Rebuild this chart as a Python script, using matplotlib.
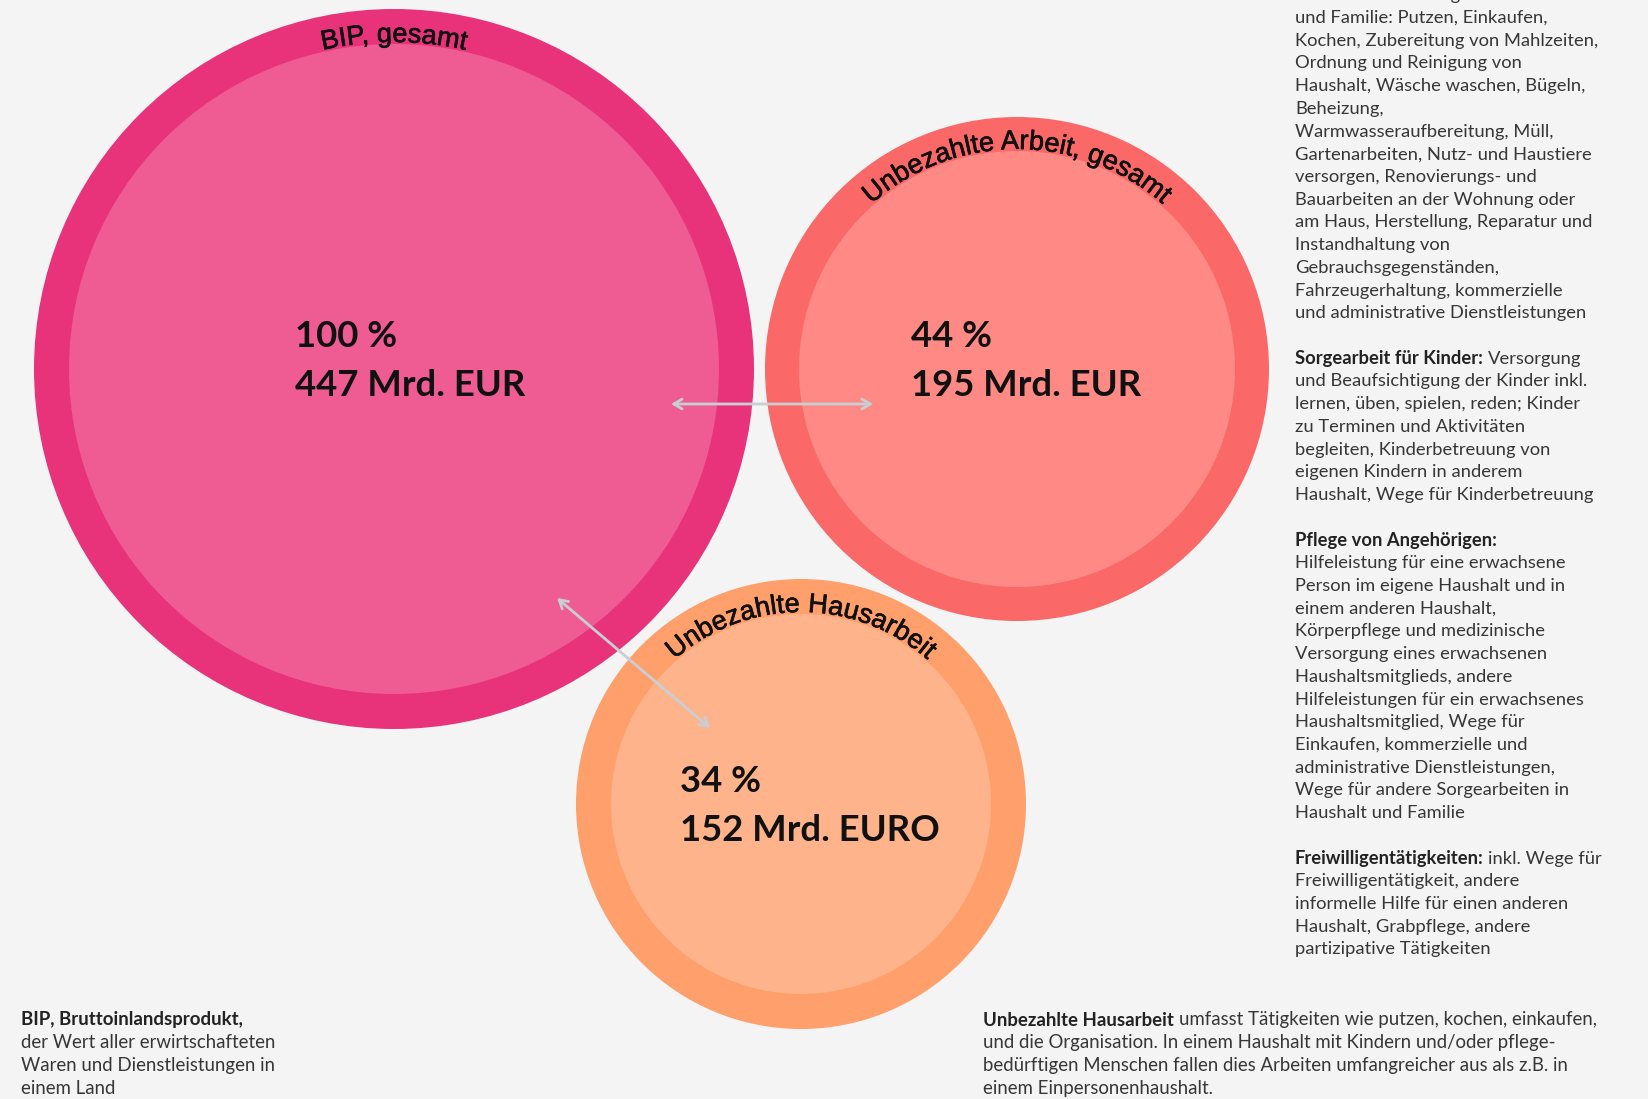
import numpy as np
import matplotlib
matplotlib.use("Agg")
from matplotlib import pyplot as plt
from matplotlib import patheffects
from matplotlib.patches import Circle, FancyArrowPatch, ArrowStyle
from matplotlib.font_manager import FontProperties

# data
labels = ["BIP, gesamt", "Unbezahlte Arbeit, gesamt", "Unbezahlte Hausarbeit"]
shares = [100, 44, 34]
amounts = [447, 195, 152]
units = ["Mrd. EUR", "Mrd. EUR", "Mrd. EURO"]

# layout (pixels)
centers = [(394, 369), (1017, 369), (801, 804)]
radii = [360, 252, 225]
inner_radii = [325, 218, 190]
outer_colors = ["#E8337A", "#FA6868", "#FF9F6C"]
inner_colors = ["#EF5B93", "#FF8A85", "#FFB38B"]
value_pos = [(295, 347), (911, 347), (680, 792)]

side_lines = [
    ("", "Hausarbeit und Sorgearbeit in Haushalt"),
    ("", "und Familie: Putzen, Einkaufen,"),
    ("", "Kochen, Zubereitung von Mahlzeiten,"),
    ("", "Ordnung und Reinigung von"),
    ("", "Haushalt, Wäsche waschen, Bügeln,"),
    ("", "Beheizung,"),
    ("", "Warmwasseraufbereitung, Müll,"),
    ("", "Gartenarbeiten, Nutz- und Haustiere"),
    ("", "versorgen, Renovierungs- und"),
    ("", "Bauarbeiten an der Wohnung oder"),
    ("", "am Haus, Herstellung, Reparatur und"),
    ("", "Instandhaltung von"),
    ("", "Gebrauchsgegenständen,"),
    ("", "Fahrzeugerhaltung, kommerzielle"),
    ("", "und administrative Dienstleistungen"),
    ("", ""),
    ("Sorgearbeit für Kinder:", " Versorgung"),
    ("", "und Beaufsichtigung der Kinder inkl."),
    ("", "lernen, üben, spielen, reden; Kinder"),
    ("", "zu Terminen und Aktivitäten"),
    ("", "begleiten, Kinderbetreuung von"),
    ("", "eigenen Kindern in anderem"),
    ("", "Haushalt, Wege für Kinderbetreuung"),
    ("", ""),
    ("Pflege von Angehörigen:", ""),
    ("", "Hilfeleistung für eine erwachsene"),
    ("", "Person im eigene Haushalt und in"),
    ("", "einem anderen Haushalt,"),
    ("", "Körperpflege und medizinische"),
    ("", "Versorgung eines erwachsenen"),
    ("", "Haushaltsmitglieds, andere"),
    ("", "Hilfeleistungen für ein erwachsenes"),
    ("", "Haushaltsmitglied, Wege für"),
    ("", "Einkaufen, kommerzielle und"),
    ("", "administrative Dienstleistungen,"),
    ("", "Wege für andere Sorgearbeiten in"),
    ("", "Haushalt und Familie"),
    ("", ""),
    ("Freiwilligentätigkeiten:", " inkl. Wege für"),
    ("", "Freiwilligentätigkeit, andere"),
    ("", "informelle Hilfe für einen anderen"),
    ("", "Haushalt, Grabpflege, andere"),
    ("", "partizipative Tätigkeiten"),
]

bip_lines = [
    ("BIP, Bruttoinlandsprodukt,", ""),
    ("", "der Wert aller erwirtschafteten"),
    ("", "Waren und Dienstleistungen in"),
    ("", "einem Land"),
]

haus_lines = [
    ("Unbezahlte Hausarbeit", " umfasst Tätigkeiten wie putzen, kochen, einkaufen,"),
    ("", "und die Organisation. In einem Haushalt mit Kindern und/oder pflege-"),
    ("", "bedürftigen Menschen fallen dies Arbeiten umfangreicher aus als z.B. in"),
    ("", "einem Einpersonenhaushalt."),
]

fig = plt.figure(figsize=(16.49, 10.99), dpi=100, facecolor="#F4F4F4")
ax = fig.add_axes([0, 0, 1, 1])
ax.set_xlim(0, 1649)
ax.set_ylim(1099, 0)
ax.axis("off")
renderer = fig.canvas.get_renderer()


def text_width(s, prop):
    w, h, d = renderer.get_text_width_height_descent(s, prop, ismath=False)
    return w


def arc_text(s, cx, cy, r, prop):
    total = text_width(s, prop)
    heavy = [patheffects.withStroke(linewidth=0.5, foreground="#111111")]
    for i, ch in enumerate(s):
        if ch == " ":
            continue
        mid = text_width(s[:i + 1], prop) - text_width(ch, prop) / 2 - total / 2
        phi = mid / r
        x = cx + r * np.sin(phi)
        y = cy - r * np.cos(phi)
        ax.text(x, y, ch, fontproperties=prop, color="#111111",
                rotation=-np.degrees(phi), rotation_mode="anchor",
                ha="center", va="baseline", path_effects=heavy)


def rich_lines(lines, x, y0, step, size):
    bold = FontProperties(family="Lato", size=size, weight="bold")
    reg = FontProperties(family="Lato", size=size)
    for k, (b, t) in enumerate(lines):
        y = y0 + k * step
        xx = x
        if b:
            ax.text(xx, y, b, fontproperties=bold, color="#222222", va="center")
            xx += text_width(b, bold)
            if t.startswith(" "):
                xx += text_width("a a", reg) - text_width("aa", reg)
                t = t[1:]
        if t:
            ax.text(xx, y, t, fontproperties=reg, color="#363636", va="center")


# circles
for (cx, cy), r, ri, co, ci in zip(centers, radii, inner_radii, outer_colors, inner_colors):
    ax.add_patch(Circle((cx, cy), r, facecolor=co, edgecolor="none"))
    ax.add_patch(Circle((cx, cy), ri, facecolor=ci, edgecolor="none"))

# arc labels
for (cx, cy), ri, lab in zip(centers, inner_radii, labels):
    arc_text(lab, cx, cy, ri + 2, FontProperties(family="Liberation Sans", size=19.5))

# values
big = FontProperties(family="Lato", size=26.3, weight="bold")
for (x, y), s, a, u in zip(value_pos, shares, amounts, units):
    ax.text(x, y, f"{s} %", fontproperties=big, color="#111111", va="baseline")
    ax.text(x, y + 49, f"{a} {u}", fontproperties=big, color="#111111", va="baseline")

# arrows
style = ArrowStyle("<->", head_length=0.6, head_width=0.35)
for p0, p1 in [((671, 404), (873, 404)), ((557, 598), (710, 728))]:
    ax.add_patch(FancyArrowPatch(p0, p1, arrowstyle=style, mutation_scale=10,
                                 color="#C7CED4", lw=2, shrinkA=0, shrinkB=0))

# side texts
rich_lines(side_lines, 1295, -4.8, 22.72, 13.2)
rich_lines(bip_lines, 21, 1020, 22.72, 13.4)
rich_lines(haus_lines, 983, 1020, 22.72, 13.45)

fig.savefig("out.png", dpi=100, facecolor=fig.get_facecolor())
